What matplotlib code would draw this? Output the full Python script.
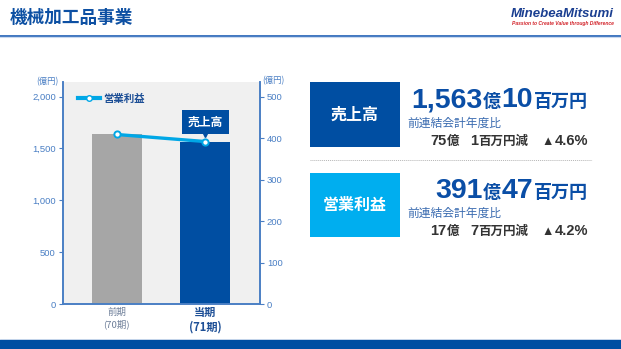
import matplotlib
matplotlib.use('Agg')
import matplotlib.pyplot as plt
from matplotlib.patches import Rectangle
from matplotlib.lines import Line2D

plt.rcParams['font.family'] = ['Noto Sans CJK JP', 'DejaVu Sans']

# data
periods = ['前期\n(70期)', '当期\n(71期)']
sales = [1638.1, 1563.1]          # 売上高 (億円)
op_income = [408.5, 391.5]        # 営業利益 (億円)
left_ticks = [0, 500, 1000, 1500, 2000]
left_labels = ['0', '500', '1,000', '1,500', '2,000']
right_ticks = [0, 100, 200, 300, 400, 500]

DARK = '#004ea2'
CYAN = '#00a7e6'
AXBLUE = '#4a7fc4'
W, H = 621, 349
LAT = ['Liberation Sans', 'Noto Sans CJK JP']

fig = plt.figure(figsize=(W / 100, H / 100), dpi=100)
fig.patch.set_facecolor('white')

def fx(px):
    return px / W

def fy(py):
    return 1 - py / H

# header / footer
fig.text(fx(10), fy(18), '機械加工品事業', fontsize=12.7, fontweight='bold', color='#0d50a3', va='center')
fig.add_artist(Line2D([0, 1], [fy(35.5), fy(35.5)], color='#1f5fb5', lw=1.2))
fig.add_artist(Line2D([0, 1], [fy(37), fy(37)], color='#c9d9ef', lw=0.8))
fig.add_artist(Rectangle((0, 0), 1, fy(340), color=DARK, transform=fig.transFigure, lw=0))
fig.add_artist(Line2D([0, 1], [fy(339), fy(339)], color='#b8cce6', lw=0.6))
fig.text(fx(614), fy(14), 'MinebeaMitsumi', family='Liberation Sans', fontsize=9.5,
         fontweight='bold', style='italic', color='#1b3f91', ha='right', va='center')
fig.text(fx(614), fy(24), 'Passion to Create Value through Difference', family='Liberation Sans',
         fontsize=3.6, fontweight='bold', style='italic', color='#d2232a', ha='right', va='center')

# chart
ax = fig.add_axes([fx(62.7), fy(304), fx(260) - fx(62.7), fy(82) - fy(304)])
ax.set_facecolor('#f0f0f0')
x = [0, 1]
ax.bar(x, sales, width=0.565, color=['#a6a6a6', DARK], zorder=2)
ax.set_xlim(-0.61, 1.617)
ax.set_ylim(0, 2140)
ax.set_yticks(left_ticks)
ax.set_yticklabels(left_labels, family=LAT)
ax.set_xticks(x)
ax.set_xticklabels([])
ax2 = ax.twinx()
ax2.set_ylim(0, 535)
ax2.set_yticks(right_ticks)
ax2.set_yticklabels([str(v) for v in right_ticks], family=LAT)
ax2.plot(x, op_income, color=CYAN, lw=2.4, marker='o', ms=4.5, mfc='white', mec=CYAN, mew=1.4, zorder=3)

for a in (ax, ax2):
    for s in a.spines.values():
        s.set_color(AXBLUE)
        s.set_linewidth(1.2)
    a.spines['top'].set_visible(False)
    a.tick_params(axis='y', colors=AXBLUE, labelsize=6.8, length=3, width=0.8, pad=2)
    a.tick_params(axis='x', length=0)

ax.text(-0.02, 1.0, '(億円)', transform=ax.transAxes, ha='right', va='center', fontsize=6, color=AXBLUE)
ax2.text(1.01, 1.005, '(億円)', transform=ax2.transAxes, ha='left', va='center', fontsize=6, color=AXBLUE)

# x labels
ax.text(0, -40, '前期', ha='center', va='top', fontsize=6.8, color='#6e7f99')
ax.text(0, -150, '(70期)', ha='center', va='top', fontsize=6.8, color='#6e7f99')
ax.text(1, -20, '当期', ha='center', va='top', fontsize=8, fontweight='bold', color='#1d4f96')
ax.text(1, -160, '(71期)', ha='center', va='top', fontsize=8, fontweight='bold', color='#1d4f96')

# legend
leg = ax2.legend([Line2D([], [], color=CYAN, lw=3, marker='o', ms=4, mfc='white', mec=CYAN)],
                 ['営業利益'], loc='upper left', bbox_to_anchor=(0.03, 0.99), frameon=False,
                 handlelength=2.1, handletextpad=0.35, prop={'size': 7.5, 'weight': 'bold'})
leg.get_texts()[0].set_color('#1d4f96')

# callout
ax.text(1, 1755, '売上高', ha='center', va='center', fontsize=8.5, fontweight='bold', color='white',
        bbox=dict(boxstyle='square,pad=0.5', fc=DARK, ec='none'), zorder=5)
ax.plot([1], [1645], marker='v', ms=5.5, color=DARK, zorder=5)

# right panels
fig.add_artist(Rectangle((fx(310), fy(147)), fx(400) - fx(310), fy(82) - fy(147), color=DARK,
                         transform=fig.transFigure, lw=0))
fig.text(fx(355), fy(114.5), '売上高', fontsize=11.5, fontweight='bold', color='white', ha='center', va='center')
fig.add_artist(Rectangle((fx(310), fy(237)), fx(400) - fx(310), fy(173) - fy(237), color='#00aeef',
                         transform=fig.transFigure, lw=0))
fig.text(fx(355), fy(205), '営業利益', fontsize=11.5, fontweight='bold', color='white', ha='center', va='center')
fig.add_artist(Line2D([fx(310), fx(592)], [fy(160), fy(160)], color='#b5b5b5', lw=0.7, ls=(0, (1, 1))))

renderer = fig.canvas.get_renderer()

def chain(pieces, right_px, base_py):
    # pieces right to left: (text, size, color, gap_px)
    xr = right_px
    for txt, size, color, gap in pieces:
        xr -= gap
        t = fig.text(fx(xr), fy(base_py), txt, fontsize=size, fontweight='bold', color=color,
                     ha='right', va='baseline', family=LAT)
        bb = t.get_window_extent(renderer)
        xr = bb.x0

BIG = '#0a4ea6'
GRAY = '#333333'
chain([('百万円', 13, BIG, 0), ('10', 20.5, BIG, 1), ('億', 13, BIG, 1), ('1,563', 20.5, BIG, 0)], 588, 107)
chain([('百万円', 13, BIG, 0), ('47', 20.5, BIG, 1), ('億', 13, BIG, 1), ('391', 20.5, BIG, 0)], 588, 198)
chain([('4.6%', 10.5, GRAY, 0), ('▲', 9, GRAY, 1), ('百万円減', 9, GRAY, 13), ('1', 10.5, GRAY, 0),
       ('億', 9, GRAY, 11), ('75', 10.5, GRAY, 0)], 588, 145)
chain([('4.2%', 10.5, GRAY, 0), ('▲', 9, GRAY, 1), ('百万円減', 9, GRAY, 13), ('7', 10.5, GRAY, 0),
       ('億', 9, GRAY, 11), ('17', 10.5, GRAY, 0)], 588, 235)
fig.text(fx(407), fy(123), '前連結会計年度比', fontsize=8.5, color='#3a6bb0', va='center')
fig.text(fx(407), fy(213), '前連結会計年度比', fontsize=8.5, color='#3a6bb0', va='center')

fig.savefig('out.png', dpi=100)
